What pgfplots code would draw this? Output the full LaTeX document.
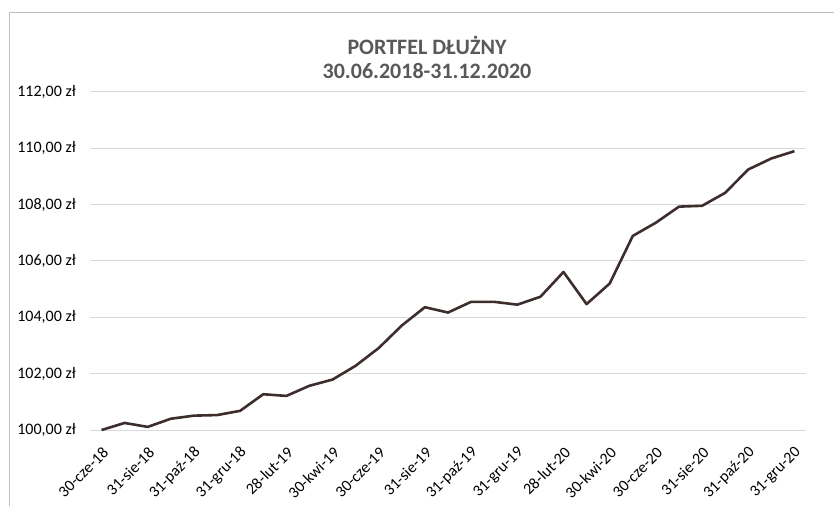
\documentclass[border=0pt]{standalone}
\usepackage{fontspec}
\setmainfont{Carlito}
\usepackage{pgfplots}
\pgfplotsset{compat=1.18}
\definecolor{txt}{HTML}{595959}
\definecolor{tick}{HTML}{4A4A4A}
\definecolor{gridc}{HTML}{D9D9D9}
\definecolor{framec}{HTML}{BFBFBF}
\definecolor{linec}{HTML}{3D2D2D}
\begin{document}
\begin{tikzpicture}[x=1pt,y=1pt]
\useasboundingbox (0,0) rectangle (834,506);
\draw[framec, line width=1pt] (9,0) -- (9,493.5) -- (834,493.5);
\node[txt, font=\fontsize{22}{26}\selectfont\bfseries] at (427,460.5) {PORTFEL DŁUŻNY};
\node[txt, font=\fontsize{22}{26}\selectfont\bfseries] at (427,435) {30.06.2018-31.12.2020};
\begin{axis}[
  at={(90pt,76pt)}, anchor=south west,
  scale only axis, width=716pt, height=338pt,
  xmin=-0.5, xmax=30.5, ymin=100, ymax=112,
  clip=false,
  axis line style={draw=none},
  major tick length=0pt,
  ymajorgrids, grid style={gridc, line width=1pt},
  ytick={100,102,104,106,108,110,112},
  yticklabels={{100,00 zł},{102,00 zł},{104,00 zł},{106,00 zł},{108,00 zł},{110,00 zł},{112,00 zł}},
  yticklabel style={tick, font=\fontsize{16}{18}\selectfont, anchor=east, inner sep=0pt, xshift=-14pt},
  xtick={0,2,...,30},
  xticklabels={30-cze-18,31-sie-18,31-paź-18,31-gru-18,28-lut-19,30-kwi-19,30-cze-19,31-sie-19,31-paź-19,31-gru-19,28-lut-20,30-kwi-20,30-cze-20,31-sie-20,31-paź-20,31-gru-20},
  xticklabel style={tick, font=\fontsize{16}{18}\selectfont, inner sep=0pt, xshift=4pt, yshift=-20pt, rotate=45, anchor=east},
]
\addplot[linec, line width=2.6pt, line join=round, mark=none] coordinates {
(0,100.00) (1,100.25) (2,100.11) (3,100.40) (4,100.51) (5,100.53) (6,100.68)
(7,101.27) (8,101.21) (9,101.57) (10,101.79) (11,102.28) (12,102.91) (13,103.71)
(14,104.36) (15,104.17) (16,104.55) (17,104.55) (18,104.45) (19,104.73) (20,105.61)
(21,104.47) (22,105.20) (23,106.89) (24,107.36) (25,107.93) (26,107.96) (27,108.42)
(28,109.25) (29,109.64) (30,109.90)
};
\end{axis}
\end{tikzpicture}
\end{document}
